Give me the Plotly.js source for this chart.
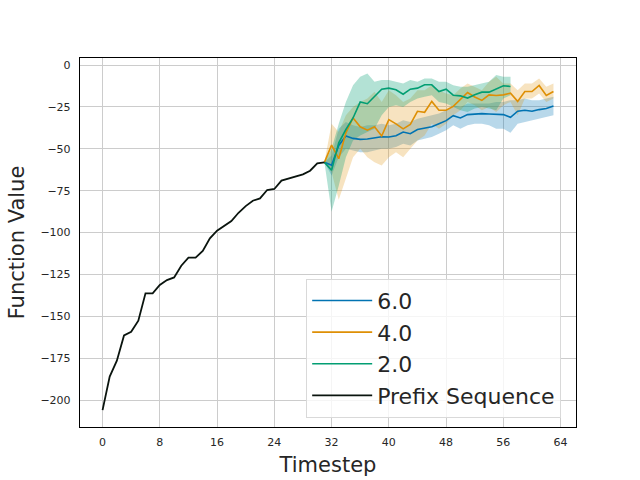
<!DOCTYPE html>
<html>
<head>
<meta charset="utf-8">
<script src="https://cdn.plot.ly/plotly-3.0.1.min.js"></script>
<style>html,body{margin:0;padding:0;background:#fff;}#chart{width:640px;height:480px;}</style>
</head>
<body>
<div id="chart"></div>
<script>
// Prefix sequence, timesteps 0..31
const prefixX = [0,1,2,3,4,5,6,7,8,9,10,11,12,13,14,15,16,17,18,19,20,21,22,23,24,25,26,27,28,29,30,31];
const prefixY = [-206,-186,-176.5,-161.4,-159.2,-152.6,-136.3,-136.3,-131.3,-128.4,-126.8,-119.8,-115,-115,-111,-103.5,-98.9,-96.1,-93.1,-88.2,-84.2,-81,-79.6,-74.6,-74,-69,-67.7,-66.3,-65.3,-63.1,-58.7,-58.1];

// Continuations, timesteps 31..63 (2.0 ends at 57)
const contX = [31,32,33,34,35,36,37,38,39,40,41,42,43,44,45,46,47,48,49,50,51,52,53,54,55,56,57,58,59,60,61,62,63];

const s6Mean  = [-58.1,-59.8,-48,-42.4,-43.8,-44.4,-44.2,-43.6,-42.8,-43,-42.2,-40,-41,-38.5,-37.5,-36.9,-35.1,-33.2,-30.2,-31.6,-29.6,-29.2,-29,-29.2,-29.4,-29.6,-31.2,-27.6,-27,-27.6,-26.6,-25.9,-24.5];
const s6Lower = [-58.1,-66,-55,-50,-51,-52,-52,-51,-50,-50,-49,-47,-48,-45,-44,-43,-41,-39,-36,-38,-36,-35,-35,-36,-38,-38,-40.5,-35,-34,-33,-32,-31,-30];
const s6Upper = [-58.1,-54,-38,-34,-36,-37,-36,-36,-35,-36,-35,-33,-34,-32,-31,-30,-29,-27,-24,-25,-23,-23,-23,-23,-22,-22,-21,-21,-20,-21,-21,-20,-19];

const s4Mean  = [-58.1,-47.8,-55.9,-40.5,-31.6,-36.9,-38.9,-36.9,-42.4,-32.6,-35.1,-38.1,-35.5,-27.6,-28.2,-21.7,-27,-27,-24.7,-20.7,-16.4,-19.1,-21.1,-17.8,-18.2,-17.8,-16.8,-21.7,-15.8,-15.8,-12.2,-18.2,-15.8];
const s4Lower = [-58.1,-64,-80.5,-68,-55,-50,-55,-58,-60,-55,-52,-55,-50,-45,-42,-35,-38,-35,-30,-27,-22,-24,-27,-25,-28,-24,-22,-30,-20,-20,-17,-22,-20];
const s4Upper = [-58.1,-35,-40,-30,-25,-22,-20,-16,-22,-15,-18,-22,-20,-15,-15,-12,-15,-17,-18,-14,-11,-13,-15,-10,-7,-11,-11,-15,-11,-11,-8,-13,-11];

const s2X     = [31,32,33,34,35,36,37,38,39,40,41,42,43,44,45,46,47,48,49,50,51,52,53,54,55,56,57];
const s2Mean  = [-58.1,-62.8,-46.4,-38.5,-31.6,-22.1,-23.1,-18.8,-14.4,-13.8,-14.8,-17.4,-14.4,-13.8,-11.8,-11.8,-15.8,-14.4,-18,-18.4,-19.7,-17.8,-16.2,-16.2,-14.4,-12.4,-12.8];
const s2Lower = [-58.1,-87.6,-72,-55,-45,-42,-40,-38,-30,-25,-24,-25,-22,-20,-19,-18,-22,-23,-25,-27,-28,-26,-25,-26,-27,-20,-18];
const s2Upper = [-58.1,-50,-35,-22,-12,-7,-5,-10,-9,-9,-10,-11,-9,-10,-8,-8,-10,-10,-12,-13,-13,-12,-11,-10,-6,-7,-7];

const seriesNames = ['6.0','4.0','2.0'];
const prefixName = 'Prefix Sequence';
const colors = ['#0173b2','#de8f05','#029e73'];
const bandColors = ['rgba(1,115,178,0.28)','rgba(222,143,5,0.25)','rgba(2,158,115,0.3)'];

const series = [
  {x: contX, m: s6Mean, lo: s6Lower, hi: s6Upper},
  {x: contX, m: s4Mean, lo: s4Lower, hi: s4Upper},
  {x: s2X,   m: s2Mean, lo: s2Lower, hi: s2Upper}
];

const traces = [];
series.forEach((s, i) => {
  traces.push({
    x: s.x.concat(s.x.slice().reverse()),
    y: s.hi.concat(s.lo.slice().reverse()),
    type: 'scatter', mode: 'lines', fill: 'toself',
    fillcolor: bandColors[i], line: {width: 0, color: 'rgba(0,0,0,0)'},
    hoverinfo: 'skip', showlegend: false
  });
});
series.forEach((s, i) => {
  traces.push({
    x: s.x, y: s.m, type: 'scatter', mode: 'lines', name: seriesNames[i],
    line: {color: colors[i], width: 1.6}
  });
});
traces.push({
  x: prefixX, y: prefixY, type: 'scatter', mode: 'lines', name: prefixName,
  line: {color: '#0a140e', width: 1.8}
});

const layout = {
  width: 640, height: 480,
  margin: {l: 80, r: 64, t: 58, b: 53},
  paper_bgcolor: '#fff', plot_bgcolor: '#fff',
  font: {family: 'DejaVu Sans', color: '#262626'},
  showlegend: true,
  xaxis: {
    range: [-3.15, 66.15], tickmode: 'array',
    tickvals: [0,8,16,24,32,40,48,56,64],
    ticktext: ['0','8','16','24','32','40','48','56','64'],
    showgrid: true, gridcolor: '#cccccc', gridwidth: 1,
    zeroline: false, showline: true, linecolor: '#000', linewidth: 1.2, mirror: true,
    ticks: 'outside', ticklen: 5, tickcolor: 'rgba(0,0,0,0)',
    tickfont: {size: 11, family: 'DejaVu Sans', color: '#262626'},
    title: {text: 'Timestep', font: {size: 21, family: 'DejaVu Sans', color: '#262626'}, standoff: 8}
  },
  yaxis: {
    range: [-216.1, 4.2], tickmode: 'array',
    tickvals: [0,-25,-50,-75,-100,-125,-150,-175,-200],
    ticktext: ['0','\u221225','\u221250','\u221275','\u2212100','\u2212125','\u2212150','\u2212175','\u2212200'],
    showgrid: true, gridcolor: '#cccccc', gridwidth: 1,
    zeroline: false, showline: true, linecolor: '#000', linewidth: 1.2, mirror: true,
    ticks: 'outside', ticklen: 6, tickcolor: 'rgba(0,0,0,0)',
    tickfont: {size: 11, family: 'DejaVu Sans', color: '#262626'},
    title: {text: 'Function Value', font: {size: 21, family: 'DejaVu Sans', color: '#262626'}, standoff: 10}
  },
  legend: {
    x: 0.456, y: 0.025, xanchor: 'left', yanchor: 'bottom',
    bgcolor: 'rgba(255,255,255,0.8)', bordercolor: '#d9d9d9', borderwidth: 1,
    font: {size: 22, family: 'DejaVu Sans', color: '#262626'},
    tracegroupgap: 0, itemwidth: 60
  }
};

Plotly.newPlot('chart', traces, layout, {displayModeBar: false, staticPlot: true});
</script>
</body>
</html>
